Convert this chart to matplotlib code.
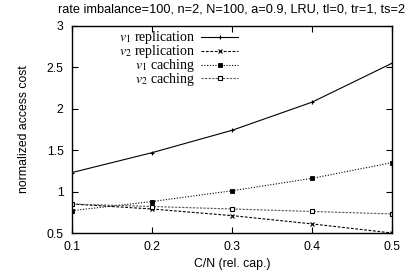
import matplotlib
matplotlib.use('Agg')
import matplotlib.pyplot as plt

plt.rcParams['font.family'] = ['Liberation Sans', 'DejaVu Sans']
plt.rcParams['mathtext.fontset'] = 'stix'

# capacity ratio C/N
cap = [0.1, 0.2, 0.3, 0.4, 0.5]

v1_repl = [1.23, 1.47, 1.74, 2.08, 2.55]
v2_repl = [0.85, 0.79, 0.71, 0.61, 0.50]
v1_cach = [0.77, 0.88, 1.01, 1.16, 1.35]
v2_cach = [0.85, 0.82, 0.79, 0.76, 0.73]

labels = [r'$v_1$ replication', r'$v_2$ replication',
          r'$v_1$ caching', r'$v_2$ caching']

fs = 8.8

fig = plt.figure(figsize=(4.17, 2.77), dpi=100)
ax = fig.add_axes([72/417, 1-233/277, 320/417, 207/277])

ax.plot(cap, v1_repl, color='black', lw=0.8, ls='-', marker='+', ms=3.5, mew=0.8, label=labels[0])
ax.plot(cap, v2_repl, color='black', lw=0.8, ls=(0, (2.5, 1.5)), marker='x', ms=3, mew=0.8, label=labels[1])
ax.plot(cap, v1_cach, color='black', lw=0.8, ls=(0, (1, 1.5)), marker='s', ms=2.5, mew=0.6, label=labels[2])
ax.plot(cap, v2_cach, color='#555555', lw=0.8, ls=(0, (2, 1.2)), marker='s', ms=3.5, mew=0.8,
        mfc='white', mec='black', label=labels[3])

ax.set_xlim(0.1, 0.5)
ax.set_ylim(0.5, 3)
ax.set_xticks(cap)
ax.set_xticklabels(['0.1', '0.2', '0.3', '0.4', '0.5'])
ax.set_yticks([0.5, 1, 1.5, 2, 2.5, 3])
ax.set_yticklabels(['0.5', '1', '1.5', '2', '2.5', '3'])
ax.tick_params(direction='in', top=True, right=True, length=4, width=0.8, labelsize=fs, pad=6)
for s in ax.spines.values():
    s.set_linewidth(1.0)

ax.set_xlabel('C/N (rel. cap.)', fontsize=fs, labelpad=3)
ax.set_ylabel('normalized access cost', fontsize=fs, labelpad=12)
ax.set_title('rate imbalance=100, n=2, N=100, a=0.9, LRU, tl=0, tr=1, ts=2', fontsize=9.2, pad=10)

ax.legend(loc='upper right', bbox_to_anchor=(0.537, 1.01), markerfirst=False, frameon=False,
          prop={'family': 'Liberation Serif', 'size': 10}, handlelength=2.7,
          handletextpad=0.4, labelspacing=-0.22, borderaxespad=0.0)

fig.savefig('out.png', dpi=100)
